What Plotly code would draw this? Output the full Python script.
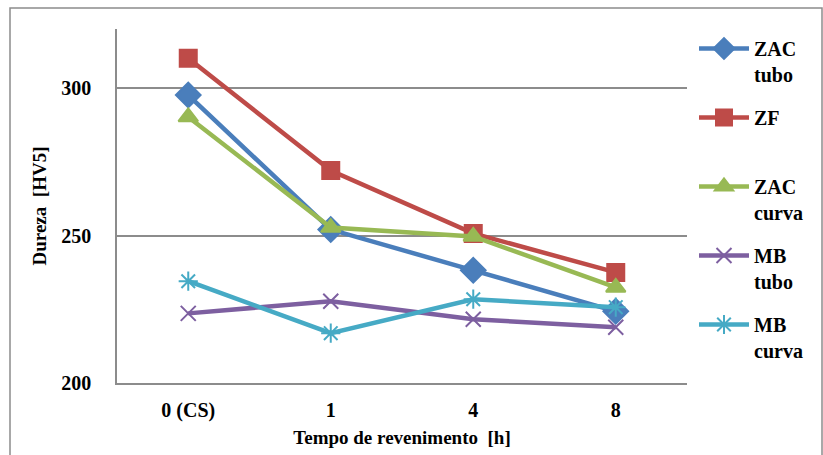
import plotly.graph_objects as go

categories = ["0 (CS)", "1", "4", "8"]
zac_tubo = [297.6, 252.0, 238.2, 224.3]
zf = [310.1, 272.0, 250.7, 237.5]
zac_curva = [290.2, 252.7, 249.7, 232.4]
mb_tubo = [223.6, 227.7, 221.6, 218.9]
mb_curva = [234.5, 216.9, 228.4, 225.7]

series = [
    ("ZAC<br>tubo", zac_tubo, "#4A7EBB", "diamond", 19),
    ("ZF<br> ", zf, "#BE4B48", "square", 17),
    ("ZAC<br>curva", zac_curva, "#98B954", "triangle-up", 17),
    ("MB<br>tubo", mb_tubo, "#7D5FA0", "x-thin-open", 15),
    ("MB<br>curva", mb_curva, "#46AAC5", "asterisk-open", 16),
]

fig = go.Figure()
for i, (name, vals, color, sym, size) in enumerate(series):
    fig.add_trace(go.Scatter(
        x=categories, y=vals, name=name, mode="lines+markers",
        legendgroup=f"g{i}",
        line=dict(color=color, width=4.5),
        marker=dict(symbol=sym, size=size, color=color,
                    line=dict(color=color, width=2)),
    ))

font_fam = "Liberation Serif"
fig.update_layout(
    width=823, height=455,
    margin=dict(l=117, r=136, t=29, b=72, autoexpand=False),
    plot_bgcolor="white", paper_bgcolor="white",
    font=dict(family=font_fam, size=20, color="black"),
    showlegend=True,
    legend=dict(
        x=(694 - 117) / 570, xanchor="left", y=1.0, yanchor="top",
        traceorder="grouped", tracegroupgap=14, valign="top",
        font=dict(family=font_fam, size=20, color="black", weight="bold"),
        itemwidth=50, bgcolor="rgba(0,0,0,0)",
    ),
    xaxis=dict(
        type="category", range=[-0.5, len(categories) - 0.5],
        showgrid=False, showline=True,
        linecolor="#8c8c8c", linewidth=1.5, ticks="",
        ticklabelstandoff=8,
        tickfont=dict(family=font_fam, size=20, weight="bold"),
        title=dict(text="Tempo de revenimento  [h]", standoff=10,
                   font=dict(family=font_fam, size=19, weight="bold")),
        zeroline=False,
    ),
    yaxis=dict(
        range=[200, 320], tickvals=[200, 250, 300],
        showgrid=True, gridcolor="#8c8c8c", gridwidth=1.5,
        showline=True, linecolor="#8c8c8c", linewidth=1.5, ticks="",
        ticklabelstandoff=20,
        tickfont=dict(family=font_fam, size=20, weight="bold"),
        title=dict(text="Dureza  [HV5]", standoff=10,
                   font=dict(family=font_fam, size=19, weight="bold")),
        zeroline=False,
    ),
)

fig.add_shape(type="rect", xref="paper", yref="paper",
              x0=(10 - 117) / 570, x1=(822 - 117) / 570,
              y0=(383 - 470) / 354, y1=(383 - 8) / 354,
              line=dict(color="#8c8c8c", width=1.5), layer="below")

fig.write_html("out.html", config={"displayModeBar": False},
               post_script="document.body.style.margin='0';")
